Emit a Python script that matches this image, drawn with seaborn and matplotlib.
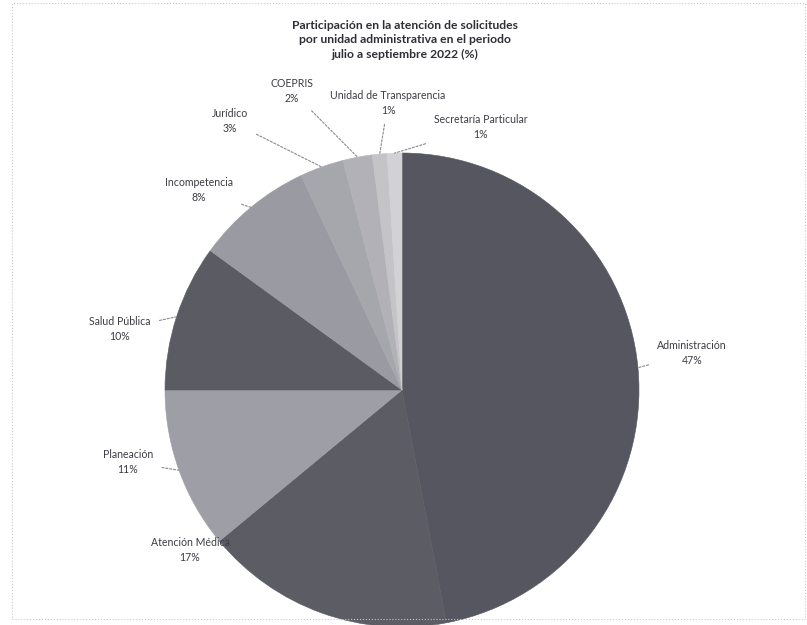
import numpy as np
import matplotlib
matplotlib.use("Agg")
import matplotlib.pyplot as plt
import seaborn as sns

# ---------------------------------------------------------------------------
# Data
# ---------------------------------------------------------------------------
units = ["Administración", "Atención Médica", "Planeación", "Salud Pública",
         "Incompetencia", "Jurídico", "COEPRIS", "Unidad de Transparencia",
         "Secretaría Particular"]
shares = [47, 17, 11, 10, 8, 3, 2, 1, 1]
shade = ["#55565f", "#5b5c64", "#9e9ea6", "#5a5b63", "#9a9aa2",
         "#a6a6ad", "#b1b1b7", "#c3c3c8", "#d2d2d6"]
TITLE = ("Participación en la atención de solicitudes\n"
         "por unidad administrativa en el periodo\n"
         "julio a septiembre 2022 (%)")

# label anchor positions in pixels of the 807x625 canvas
label_px = [(692, 353), (190, 550), (128, 462), (120, 329), (199, 190),
            (230, 121), (292, 91), (388, 103), (481, 127)]
no_leader = {"Atención Médica"}  # label sits on the pie edge in the original

sns.set_style("white")
plt.rcParams["font.family"] = ["Lato", "DejaVu Sans"]

W, H = 807, 625
CX, CY, R = 402, 390, 237
fig = plt.figure(figsize=(W / 100, H / 100), dpi=100)
ax = fig.add_axes([(CX - R) / W, (H - CY - R) / H, 2 * R / W, 2 * R / H])

wedges, _ = ax.pie(shares, colors=shade, startangle=90, counterclock=False,
                   radius=1, wedgeprops=dict(linewidth=0.4))
for w in wedges:
    w.set_edgecolor(w.get_facecolor())
    w.set_clip_on(False)
ax.set_xlim(-1, 1)
ax.set_ylim(-1, 1)
ax.set_aspect("equal")
ax.axis("off")

txt_col = "#3c3c44"
for w, name, val, (px, py) in zip(wedges, units, shares, label_px):
    tx, ty = (px - CX) / R, (CY - py) / R
    mid = np.deg2rad((w.theta1 + w.theta2) / 2)
    ex, ey = np.cos(mid), np.sin(mid)
    arrow = None if name in no_leader else dict(
        arrowstyle="-", color="#8a8a90", lw=0.8, ls=(0, (2, 1.5)),
        shrinkA=4, shrinkB=0)
    ax.annotate(f"{name}\n{val}%", xy=(ex, ey), xytext=(tx, ty),
                ha="center", va="center", fontsize=7.6, color=txt_col,
                linespacing=1.35, annotation_clip=False, arrowprops=arrow)

fig.text(CX / W + 3 / W, 1 - 40 / H, TITLE, ha="center", va="center",
         fontsize=8.7, fontweight="bold", color="#2e2e36", linespacing=1.38)

# faint dotted chart border of the scanned original
fig.patches.append(plt.Rectangle((12 / W, 6 / H), 1 - 14 / W, 1 - 9 / H,
                                 transform=fig.transFigure, fill=False,
                                 ec="#c8c8cc", lw=0.8, ls=":"))

fig.savefig("out.png", dpi=100)
